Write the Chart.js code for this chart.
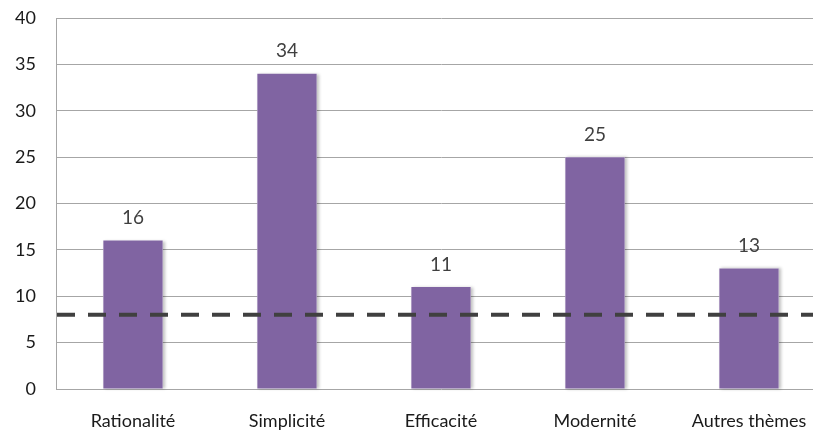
<!DOCTYPE html>
<html>
<head>
<meta charset="utf-8">
<script src="https://cdn.jsdelivr.net/npm/chart.js@4/dist/chart.umd.min.js"></script>
<style>
  html, body { margin: 0; padding: 0; background: #fff; overflow: hidden; }
  #wrap { width: 830px; height: 437px; }
</style>
</head>
<body>
<div id="wrap"><canvas id="chart" width="830" height="437"></canvas></div>
<script>
const categories = ["Rationalité", "Simplicité", "Efficacité", "Modernité", "Autres thèmes"];
const values = [16, 34, 11, 25, 13];
const yTicks = [0, 5, 10, 15, 20, 25, 30, 35, 40];
const threshold = 8;

const FONT = "Lato, 'Open Sans', sans-serif";

// dashed reference line + labels on top of bars
const extras = {
  id: "extras",
  beforeDatasetsDraw(chart) {
    const ctx = chart.ctx;
    const meta = chart.getDatasetMeta(0);
    ctx.save();
    ctx.shadowColor = "rgba(0,0,0,0.25)";
    ctx.shadowOffsetX = 2;
    ctx.shadowBlur = 3;
    ctx.fillStyle = "#ffffff";
    meta.data.forEach(bar => {
      ctx.fillRect(bar.x - bar.width / 2, bar.y, bar.width, bar.base - bar.y);
    });
    ctx.restore();
  },
  afterDatasetsDraw(chart) {
    const ctx = chart.ctx;
    const area = chart.chartArea;
    const y = chart.scales.y.getPixelForValue(threshold);
    ctx.save();
    ctx.strokeStyle = "#404040";
    ctx.lineWidth = 4;
    ctx.setLineDash([18, 13]);
    ctx.beginPath();
    ctx.moveTo(area.left + 1, y);
    ctx.lineTo(area.right, y);
    ctx.stroke();
    ctx.restore();

    const meta = chart.getDatasetMeta(0);
    ctx.save();
    ctx.fillStyle = "#404040";
    ctx.font = "19px " + FONT;
    ctx.textAlign = "center";
    ctx.textBaseline = "bottom";
    meta.data.forEach((bar, i) => {
      ctx.fillText(values[i], bar.x, bar.y - 13);
    });
    ctx.restore();
  }
};

new Chart(document.getElementById("chart"), {
  type: "bar",
  data: {
    labels: categories,
    datasets: [{
      data: values,
      backgroundColor: "#8064A2",
      borderWidth: 0,
      barPercentage: 1,
      categoryPercentage: 0.385
    }]
  },
  options: {
    responsive: false,
    animation: false,
    layout: { padding: { top: 18, left: 0, right: 4, bottom: 0 } },
    plugins: { legend: { display: false }, tooltip: { enabled: false } },
    scales: {
      x: {
        grid: { display: false, drawTicks: false },
        border: { display: false },
        ticks: { color: "#1a1a1a", font: { family: FONT, size: 18 }, padding: 21, maxRotation: 0 },
        afterFit(scale) { scale.height = 48; }
      },
      y: {
        min: 0,
        max: 40,
        afterBuildTicks(scale) { scale.ticks = yTicks.map(v => ({ value: v })); },
        grid: { color: "#a6a6a6", lineWidth: 1, drawTicks: false },
        border: { display: true, color: "#a6a6a6", width: 1 },
        ticks: { color: "#1a1a1a", font: { family: FONT, size: 18 }, padding: 20 },
        afterFit(scale) {
          scale.width = 56;
          scale.paddingTop = 0;
          scale.paddingBottom = 0;
        }
      }
    }
  },
  plugins: [extras]
});
</script>
</body>
</html>
